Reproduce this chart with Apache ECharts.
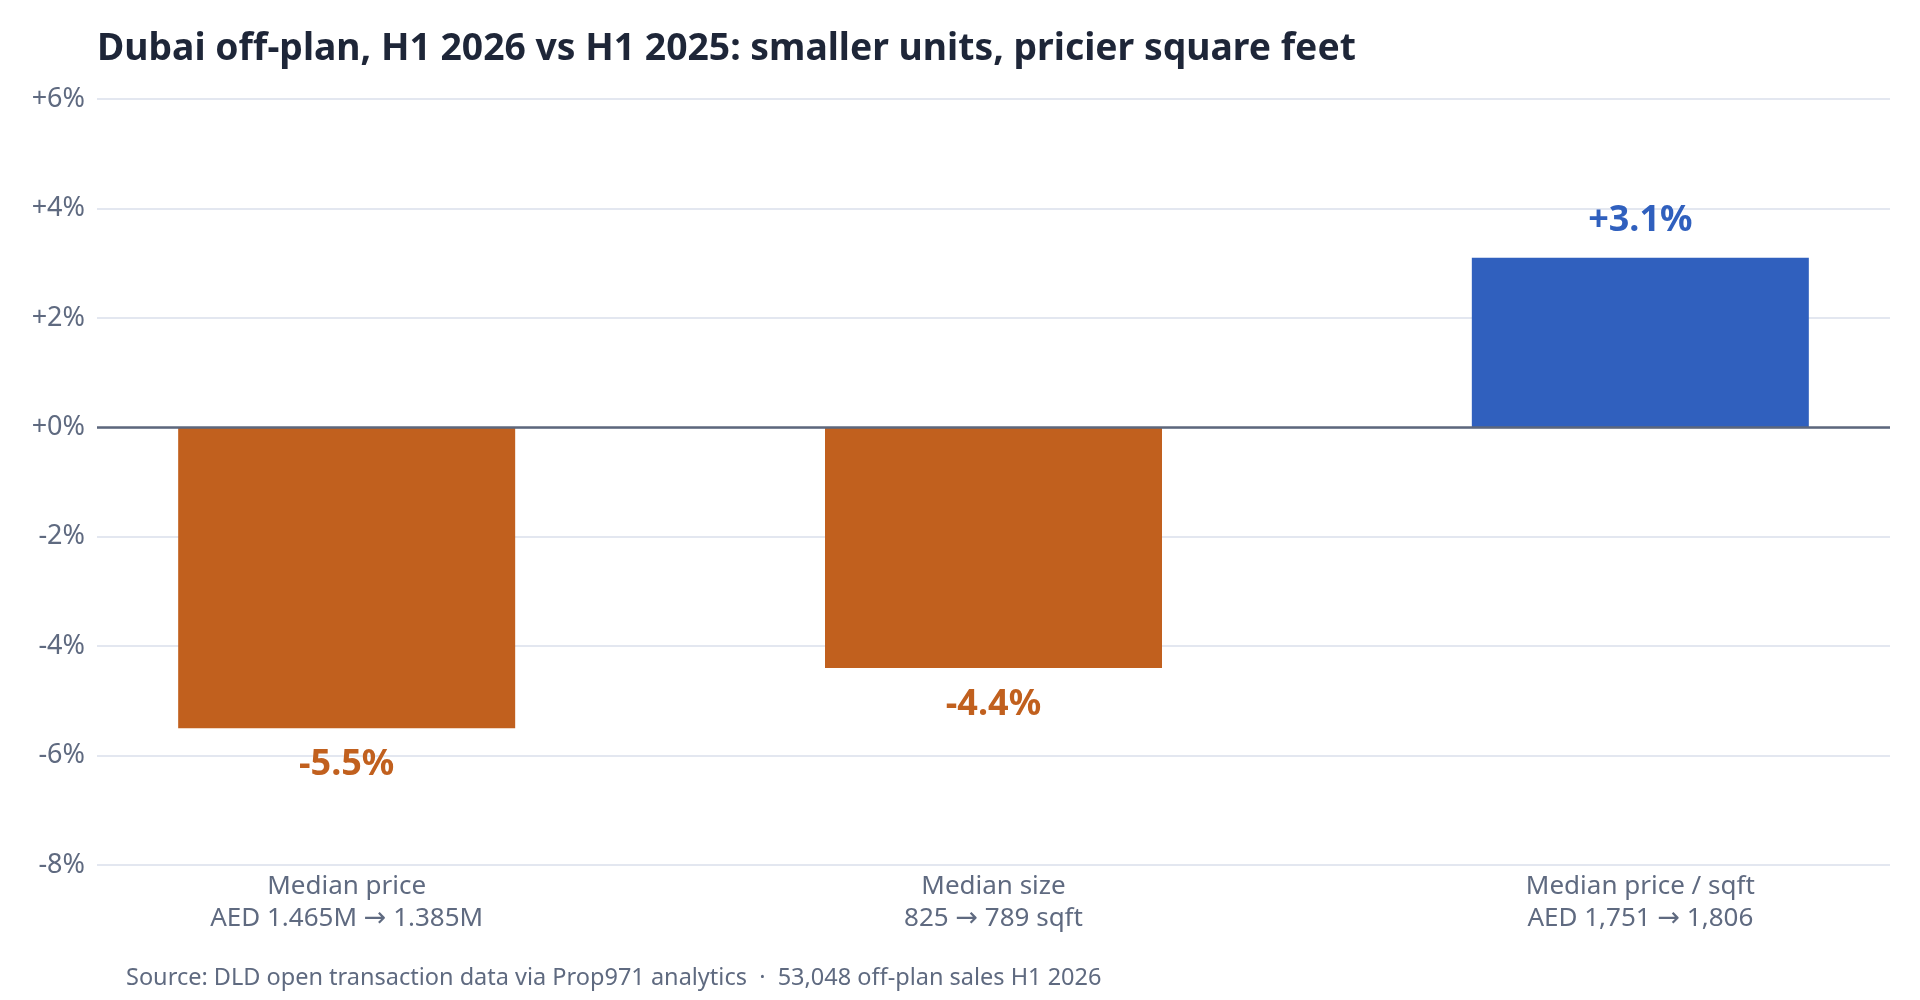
<!DOCTYPE html>
<html>
<head>
<meta charset="utf-8">
<script src="https://cdn.jsdelivr.net/npm/echarts@6/dist/echarts.min.js"></script>
<style>
  html, body { margin: 0; padding: 0; background: #ffffff; }
  #chart { width: 1920px; height: 1000px; }
</style>
</head>
<body>
<div id="chart"></div>
<script>
const titleText = 'Dubai off-plan, H1 2026 vs H1 2025: smaller units, pricier square feet';
const sourceText = 'Source: DLD open transaction data via Prop971 analytics  \u00b7  53,048 off-plan sales H1 2026';
const metricNames = ['Median price', 'Median size', 'Median price / sqft'];
const metricDetails = ['AED 1.465M \u2192 1.385M', '825 \u2192 789 sqft', 'AED 1,751 \u2192 1,806'];
const changePct = [-5.5, -4.4, 3.1];
const yTicks = { min: -8, max: 6, interval: 2 };

const FONT = 'Noto Sans';
const ORANGE = '#c1601e';
const BLUE = '#3060be';
const SLATE = '#5f6a80';

const chart = echarts.init(document.getElementById('chart'), null, { renderer: 'canvas' });

const fmtPct = v => (v > 0 ? '+' : '') + v.toFixed(1) + '%';
const withArrow = s => s.split('\u2192').join('{arr|\u2192}');

chart.setOption({
  backgroundColor: '#ffffff',
  animation: false,
  title: [
    {
      text: titleText,
      left: 97, top: 26, padding: 0,
      textStyle: { fontFamily: FONT, fontSize: 37.3, fontWeight: 'bold', color: '#1e2638', lineHeight: 46 }
    },
    {
      text: sourceText,
      left: 126, top: 963, padding: 0,
      textStyle: { fontFamily: FONT, fontSize: 23.5, fontWeight: 'normal', color: SLATE, lineHeight: 30 }
    }
  ],
  grid: { left: 97, right: 30, top: 99, bottom: 135, containLabel: false },
  xAxis: {
    type: 'value',
    min: -0.386, max: 2.386,
    axisLine: { show: false },
    axisTick: { show: false },
    splitLine: { show: false },
    axisLabel: {
      customValues: [0, 1, 2],
      formatter: v => metricNames[Math.round(v)] + '\n' + withArrow(metricDetails[Math.round(v)]),
      fontFamily: FONT, fontSize: 26, lineHeight: 32, color: SLATE, margin: 6,
      rich: {
        arr: { fontFamily: 'DejaVu Sans', fontSize: 27, lineHeight: 32, color: SLATE }
      }
    }
  },
  yAxis: {
    type: 'value',
    min: yTicks.min, max: yTicks.max, interval: yTicks.interval,
    axisLine: { show: false },
    axisTick: { show: false },
    splitLine: { show: true, lineStyle: { color: '#e3e7f0', width: 2 } },
    axisLabel: {
      formatter: v => (v >= 0 ? '+' : '') + v + '%',
      fontFamily: FONT, fontSize: 27, color: SLATE, margin: 12
    }
  },
  series: [{
    type: 'bar',
    data: changePct.map((v, i) => ({
      value: [i, v],
      itemStyle: { color: v < 0 ? ORANGE : BLUE },
      label: { color: v < 0 ? ORANGE : BLUE }
    })),
    barWidth: 337,
    label: {
      show: true,
      position: 'outside',
      distance: 17,
      formatter: p => fmtPct(p.value[1]),
      fontFamily: FONT, fontSize: 36, fontWeight: 'bold', lineHeight: 40
    },
    markLine: {
      silent: true,
      symbol: ['none', 'none'],
      label: { show: false },
      lineStyle: { color: '#5d677c', width: 2.5, type: 'solid' },
      data: [{ yAxis: 0 }]
    }
  }]
});
</script>
</body>
</html>
